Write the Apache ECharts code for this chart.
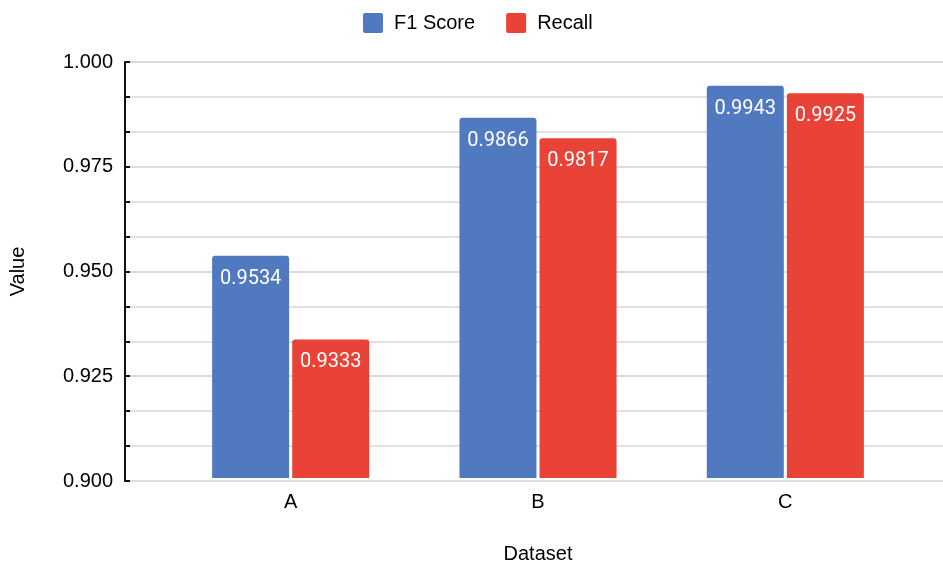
<!DOCTYPE html>
<html><head><meta charset="utf-8">
<script src="https://cdn.jsdelivr.net/npm/echarts@6/dist/echarts.min.js"></script>
<style>html,body{margin:0;padding:0;background:#fff}#c{width:943px;height:569px}</style>
</head><body><div id="c"></div>
<script>
const categories = ['A', 'B', 'C'];
const f1Score = [0.9534, 0.9866, 0.9943];
const recall = [0.9333, 0.9817, 0.9925];
const yMin = 0.900, yMax = 1.000, yStep = 0.025;

const chart = echarts.init(document.getElementById('c'));
const font = 'Liberation Sans, Arial, sans-serif';
const lbl = {show: true, position: 'insideTop', distance: 13, color: '#fff', fontSize: 20, fontFamily: 'Roboto, sans-serif',
  formatter: p => p.value.toFixed(4)};
chart.setOption({
  animation: false,
  legend: {top: 8, left: 358, itemWidth: 20, itemHeight: 20, itemGap: 31,
    textStyle: {fontFamily: font, fontSize: 20, color: '#000', padding: [0, 0, 0, 6]},
    icon: 'path://M2,0 L18,0 Q20,0 20,2 L20,18 Q20,20 18,20 L2,20 Q0,20 0,18 L0,2 Q0,0 2,0 Z',
    data: ['F1 Score', 'Recall']},
  grid: [
    {left: 125, right: 0, top: 62, bottom: 88},
    {left: 167, right: 34, top: 62, bottom: 88}
  ],
  xAxis: [
    {gridIndex: 0, type: 'category', data: categories, show: false},
    {gridIndex: 1, type: 'category', data: categories,
      axisLine: {show: false}, axisTick: {show: false},
      axisLabel: {fontFamily: font, fontSize: 20, color: '#000', margin: 14},
      name: 'Dataset', nameLocation: 'middle', nameGap: 66,
      nameTextStyle: {fontFamily: font, fontSize: 20, color: '#000'}}
  ],
  yAxis: [
    {gridIndex: 0, type: 'value', min: yMin, max: yMax, interval: yStep,
      axisLine: {show: true, lineStyle: {color: '#111', width: 2}},
      axisTick: {show: true, inside: true, length: 5, lineStyle: {color: '#111', width: 2}},
      minorTick: {show: true, splitNumber: 3, length: 5, lineStyle: {color: '#111', width: 2}},
      splitLine: {show: true, lineStyle: {color: '#cfcfcf', width: 1.5}},
      minorSplitLine: {show: true, lineStyle: {color: '#d8d8d8', width: 1.5}},
      axisLabel: {fontFamily: font, fontSize: 20, color: '#000', margin: 12, formatter: v => v.toFixed(3)},
      name: 'Value', nameLocation: 'middle', nameGap: 97, nameRotate: 90,
      nameTextStyle: {fontFamily: font, fontSize: 20, color: '#000'}},
    {gridIndex: 1, type: 'value', min: yMin, max: yMax, interval: yStep, show: false,
      splitLine: {show: false}}
  ],
  series: [
    {name: 'F1 Score', type: 'bar', xAxisIndex: 1, yAxisIndex: 1, data: f1Score, barWidth: 77, barGap: '4%',
      itemStyle: {color: '#5079bf', borderRadius: [3, 3, 0, 0]}, label: lbl},
    {name: 'Recall', type: 'bar', xAxisIndex: 1, yAxisIndex: 1, data: recall, barWidth: 77, barGap: '4%',
      itemStyle: {color: '#e84336', borderRadius: [3, 3, 0, 0]}, label: lbl}
  ]
});
</script></body></html>
